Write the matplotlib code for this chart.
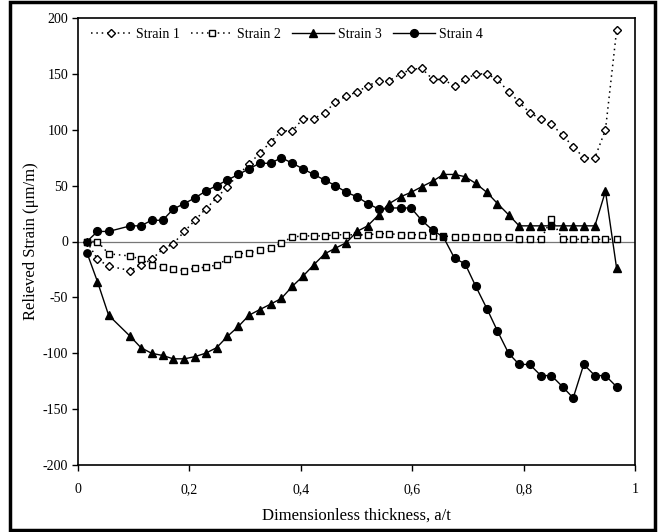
import matplotlib
matplotlib.use("Agg")
import matplotlib.pyplot as plt
from matplotlib.ticker import FixedLocator, FuncFormatter
from matplotlib.patches import Rectangle

# ---- data ----
x = [0.016, 0.035, 0.055, 0.094, 0.113, 0.132, 0.152, 0.171, 0.191, 0.210,
     0.229, 0.249, 0.268, 0.288, 0.307, 0.326, 0.346, 0.365, 0.385, 0.404,
     0.423, 0.443, 0.462, 0.482, 0.501, 0.520, 0.540, 0.559, 0.579, 0.598,
     0.617, 0.637, 0.656, 0.676, 0.695, 0.714, 0.734, 0.753, 0.773, 0.792,
     0.811, 0.831, 0.850, 0.870, 0.889, 0.908, 0.928, 0.947, 0.967]

strain1 = [0, -16, -22, -26, -21, -16, -7, -2, 9, 19,
           29, 39, 49, 60, 69, 79, 89, 99, 99, 110,
           110, 115, 125, 130, 134, 139, 144, 144, 150, 154,
           155, 145, 145, 139, 145, 150, 150, 145, 134, 125,
           115, 110, 105, 95, 85, 75, 75, 100, 189]

strain2 = [0, 0, -11, -13, -16, -21, -23, -25, -26, -24,
           -23, -21, -16, -11, -10, -8, -6, -1, 4, 5,
           5, 5, 6, 6, 6, 6, 7, 7, 6, 6,
           6, 5, 5, 4, 4, 4, 4, 4, 4, 2,
           2, 2, 20, 2, 2, 2, 2, 2, 2]

strain3 = [-10, -36, -66, -85, -95, -100, -102, -105, -105, -103,
           -100, -95, -85, -76, -66, -61, -56, -51, -40, -31,
           -21, -11, -6, -1, 9, 14, 24, 34, 40, 44,
           49, 54, 60, 60, 58, 52, 44, 34, 24, 14,
           14, 14, 14, 14, 14, 14, 14, 45, -24]

strain4 = [0, 9, 9, 14, 14, 19, 19, 29, 34, 39,
           45, 50, 55, 60, 65, 70, 70, 75, 70, 65,
           60, 55, 50, 44, 40, 34, 29, 30, 30, 30,
           19, 10, 4, -15, -20, -40, -60, -80, -100, -110,
           -110, -120, -120, -130, -140, -110, -120, -120, -130]

series_names = ["Strain 1", "Strain 2", "Strain 3", "Strain 4"]
xtick_vals = [0, 0.2, 0.4, 0.6, 0.8, 1.0]
xtick_labels = ["0", "0,2", "0,4", "0,6", "0,8", "1"]
ytick_vals = [-200, -150, -100, -50, 0, 50, 100, 150, 200]

plt.rcParams['font.family'] = ['Liberation Serif', 'DejaVu Serif']

fig = plt.figure(figsize=(6.6, 5.32), dpi=100)
ax = fig.add_axes([78/660, 1 - 465/532, (635 - 78)/660, (465 - 18)/532])

ax.axhline(0, color='#777777', lw=0.9, zorder=1)

dot = (0, (1, 2.5))
ax.plot(x, strain1, linestyle=dot, color='black', lw=1.1, marker='D',
        markersize=4, markerfacecolor='white', markeredgecolor='black',
        markeredgewidth=1.0, label=series_names[0], zorder=3)
ax.plot(x, strain2, linestyle=dot, color='black', lw=1.1, marker='s',
        markersize=5, markerfacecolor='white', markeredgecolor='black',
        markeredgewidth=1.0, label=series_names[1], zorder=3)

# strain 3: first point drawn with a circle, point at index 42 with a square in the source
s3_tri = [i for i in range(len(x)) if i not in (0, 42)]
ax.plot(x, strain3, '-', color='black', lw=1.0, marker='^', markersize=5.8,
        markevery=s3_tri, label=series_names[2], zorder=4)
ax.plot([x[0]], [strain3[0]], 'o', color='black', markersize=5.3, zorder=4)
ax.plot([x[42]], [strain3[42]], 's', color='black', markersize=5, zorder=4)

s4_circ = [i for i in range(len(x)) if i not in (0, 32)]
ax.plot(x, strain4, '-', color='black', lw=1.0, marker='o', markersize=5.6,
        markevery=s4_circ, label=series_names[3], zorder=5)
ax.plot([x[0], x[32]], [strain4[0], strain4[32]], 's', color='black',
        markersize=5, zorder=5)

ax.set_xlim(0, 1)
ax.set_ylim(-200, 200)
ax.xaxis.set_major_locator(FixedLocator(xtick_vals))
ax.set_xticklabels(xtick_labels)
ax.yaxis.set_major_locator(FixedLocator(ytick_vals))
ax.yaxis.set_major_formatter(FuncFormatter(lambda v, p: f"{int(v)}".replace('\u2212', '-')))

ax.tick_params(axis='both', direction='out', length=4, width=1.0,
               labelsize=10, colors='black', pad=3)
ax.tick_params(axis='x', pad=9)
for sp in ax.spines.values():
    sp.set_linewidth(1.2)
    sp.set_color('black')

ax.set_xlabel("Dimensionless thickness, a/t", fontsize=12, labelpad=8)
ax.set_ylabel("Relieved Strain (\u03bcm/m)", fontsize=12, labelpad=3)

leg = ax.legend(loc='upper left', bbox_to_anchor=(0.005, 1.0), ncol=4, frameon=False,
                fontsize=10, handlelength=3.0, handletextpad=0.3, columnspacing=0.8,
                borderaxespad=0.3)

# outer frame around the whole figure
fig.patches.append(Rectangle((10/660, 2/532), (655 - 10)/660, (530 - 2)/532,
                             transform=fig.transFigure, fill=False,
                             edgecolor='black', lw=2.5))

fig.savefig("out.png", dpi=100)
